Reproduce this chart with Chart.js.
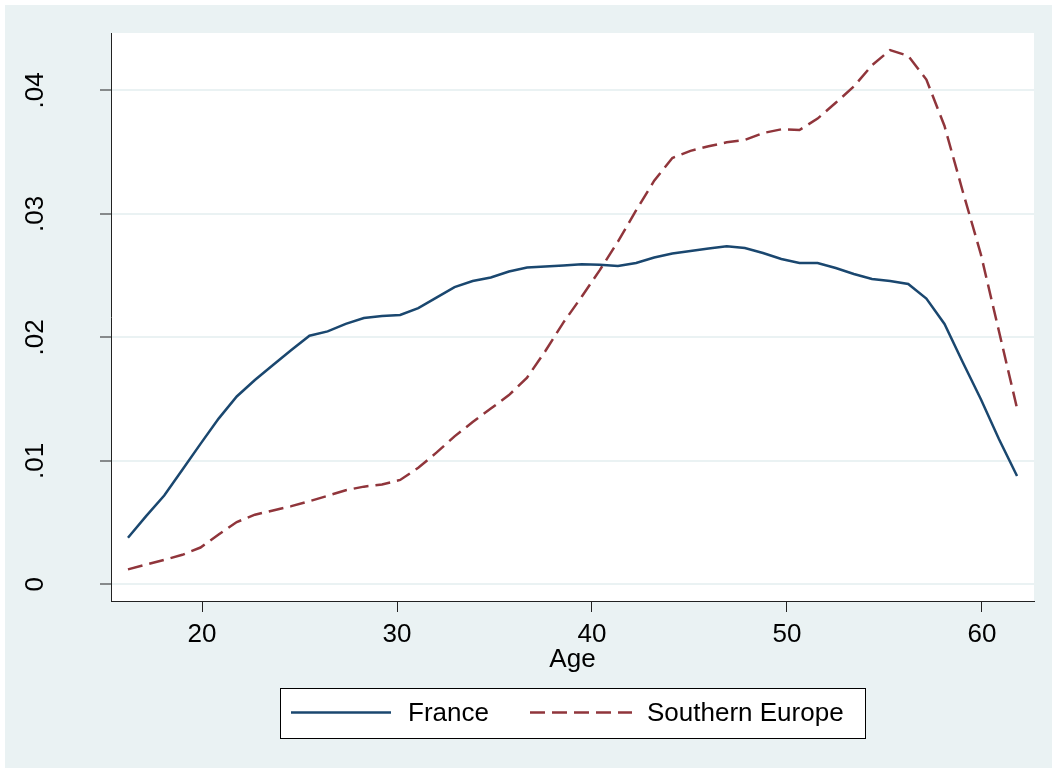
<!DOCTYPE html>
<html>
<head>
<meta charset="utf-8">
<script src="https://cdn.jsdelivr.net/npm/chart.js@4/dist/chart.umd.min.js"></script>
<style>
  html, body { margin: 0; padding: 0; background: #ffffff; }
  canvas { display: block; }
</style>
</head>
<body>
<canvas id="c" width="1052" height="769"></canvas>
<script>
// ---- data ----
const ages = [16.20, 17.13, 18.06, 18.99, 19.92, 20.85, 21.78, 22.71, 23.64, 24.58,
              25.51, 26.44, 27.37, 28.30, 29.23, 30.16, 31.09, 32.02, 32.95, 33.88,
              34.81, 35.74, 36.67, 37.60, 38.53, 39.47, 40.40, 41.33, 42.26, 43.19,
              44.12, 45.05, 45.98, 46.91, 47.84, 48.77, 49.71, 50.64, 51.57, 52.50,
              53.43, 54.36, 55.29, 56.22, 57.15, 58.08, 59.01, 59.94, 60.87, 61.80];

const france = [0.00377, 0.00552, 0.00719, 0.00927, 0.01137, 0.01342, 0.01521, 0.01654, 0.01776, 0.01897,
                0.02013, 0.02048, 0.02109, 0.02156, 0.02172, 0.02181, 0.02237, 0.02322, 0.02407, 0.02456,
                0.02484, 0.02533, 0.02565, 0.02573, 0.02581, 0.02591, 0.02587, 0.02577, 0.02602, 0.02646,
                0.02679, 0.02699, 0.02719, 0.02737, 0.02723, 0.02683, 0.02634, 0.02602, 0.02602, 0.02561,
                0.02513, 0.02472, 0.02456, 0.02432, 0.02314, 0.02108, 0.01800, 0.01500, 0.01177, 0.00877];

const southernEurope = [0.00121, 0.00160, 0.00198, 0.00239, 0.00298, 0.00403, 0.00504, 0.00564, 0.00598, 0.00633,
                        0.00673, 0.00717, 0.00762, 0.00791, 0.00808, 0.00845, 0.00944, 0.01066, 0.01198, 0.01314,
                        0.01423, 0.01532, 0.01674, 0.01887, 0.02119, 0.02329, 0.02544, 0.02775, 0.03027, 0.03268,
                        0.03452, 0.03510, 0.03547, 0.03579, 0.03598, 0.03654, 0.03684, 0.03679, 0.03771, 0.03899,
                        0.04031, 0.04203, 0.04326, 0.04278, 0.04087, 0.03711, 0.03185, 0.02675, 0.02051, 0.01425];

const seriesNames = ['France', 'Southern Europe'];
const xTickValues = [20, 30, 40, 50, 60];
const xTickLabels = ['20', '30', '40', '50', '60'];
const yTickValues = [0, 0.01, 0.02, 0.03, 0.04];
const yTickLabels = ['0', '.01', '.02', '.03', '.04'];
const xTitle = 'Age';

// ---- styling ----
const FONT = "'Liberation Sans', Arial, Helvetica, sans-serif";
const BLUE = '#1a476f';
const RED = '#90353b';
const GRID = '#eaf2f3';
const OUTER = '#eaf2f3';
const AXIS = '#222222';

const toXY = (vals) => ages.map((a, i) => ({ x: a, y: vals[i] }));

const backgroundPlugin = {
  id: 'bg',
  beforeDraw(chart) {
    const ctx = chart.ctx;
    const a = chart.chartArea;
    ctx.save();
    ctx.fillStyle = '#ffffff';
    ctx.fillRect(0, 0, chart.width, chart.height);
    ctx.fillStyle = OUTER;
    ctx.fillRect(5, 5, chart.width - 5, chart.height - 6);
    ctx.fillStyle = '#ffffff';
    ctx.fillRect(a.left, a.top, a.right - a.left, a.bottom - a.top);
    ctx.restore();
  }
};

const legendPlugin = {
  id: 'boxLegend',
  afterDraw(chart) {
    const ctx = chart.ctx;
    const ds = chart.data.datasets;
    const bx = 280.5, by = 688.5, bw = 585, bh = 50;
    const cy = 712.5;
    ctx.save();
    ctx.fillStyle = '#ffffff';
    ctx.fillRect(bx, by, bw, bh);
    ctx.strokeStyle = '#000000';
    ctx.lineWidth = 1;
    ctx.strokeRect(bx, by, bw, bh);
    const items = [
      { x0: 291, x1: 391, tx: 408 },
      { x0: 530, x1: 632, tx: 647 }
    ];
    items.forEach((it, i) => {
      const d = ds[i];
      ctx.beginPath();
      ctx.strokeStyle = d.borderColor;
      ctx.lineWidth = d.borderWidth;
      ctx.setLineDash(d.borderDash || []);
      ctx.moveTo(it.x0, cy);
      ctx.lineTo(it.x1, cy);
      ctx.stroke();
      ctx.setLineDash([]);
      ctx.fillStyle = '#000000';
      ctx.font = '26px ' + FONT;
      ctx.textBaseline = 'middle';
      ctx.textAlign = 'left';
      ctx.fillText(d.label, it.tx, cy + 1);
    });
    ctx.restore();
  }
};

new Chart(document.getElementById('c'), {
  type: 'line',
  data: {
    datasets: [
      {
        label: seriesNames[0],
        data: toXY(france),
        borderColor: BLUE,
        backgroundColor: BLUE,
        borderWidth: 2.5,
        pointRadius: 0,
        tension: 0,
        fill: false
      },
      {
        label: seriesNames[1],
        data: toXY(southernEurope),
        borderColor: RED,
        backgroundColor: RED,
        borderWidth: 2.5,
        borderDash: [15, 7],
        pointRadius: 0,
        tension: 0,
        fill: false
      }
    ]
  },
  options: {
    responsive: false,
    animation: false,
    devicePixelRatio: 1,
    layout: { padding: { left: 0, top: 33, right: 18, bottom: 94 } },
    plugins: {
      legend: { display: false },
      tooltip: { enabled: false }
    },
    scales: {
      x: {
        type: 'linear',
        min: 15.33,
        max: 62.67,
        afterBuildTicks: (s) => { s.ticks = xTickValues.map(v => ({ value: v })); },
        afterFit: (s) => { s.height = 74; s.paddingLeft = 0; s.paddingRight = 0; },
        ticks: {
          font: { family: FONT, size: 26 },
          color: '#000000',
          padding: 7,
          maxRotation: 0,
          minRotation: 0,
          callback: (v) => { const i = xTickValues.indexOf(v); return i >= 0 ? xTickLabels[i] : ''; }
        },
        grid: { drawOnChartArea: false, drawTicks: true, tickLength: 11, tickColor: AXIS, tickWidth: 1 },
        border: { display: true, color: AXIS, width: 1 },
        title: {
          display: true,
          text: xTitle,
          font: { family: FONT, size: 26 },
          color: '#000000',
          padding: { top: 0, bottom: 0 }
        }
      },
      y: {
        type: 'linear',
        min: -0.00135,
        max: 0.04464,
        afterBuildTicks: (s) => { s.ticks = yTickValues.map(v => ({ value: v })); },
        afterFit: (s) => { s.width = 111; s.paddingTop = 0; s.paddingBottom = 0; },
        ticks: {
          font: { family: FONT, size: 26 },
          color: '#000000',
          crossAlign: 'center',
          minRotation: 90,
          maxRotation: 90,
          padding: 46,
          callback: (v) => { const i = yTickValues.indexOf(v); return i >= 0 ? yTickLabels[i] : ''; }
        },
        grid: { drawOnChartArea: true, color: GRID, lineWidth: 2, drawTicks: true, tickLength: 11, tickColor: AXIS, tickWidth: 1 },
        border: { display: true, color: AXIS, width: 1 }
      }
    }
  },
  plugins: [backgroundPlugin, legendPlugin]
});
</script>
</body>
</html>
